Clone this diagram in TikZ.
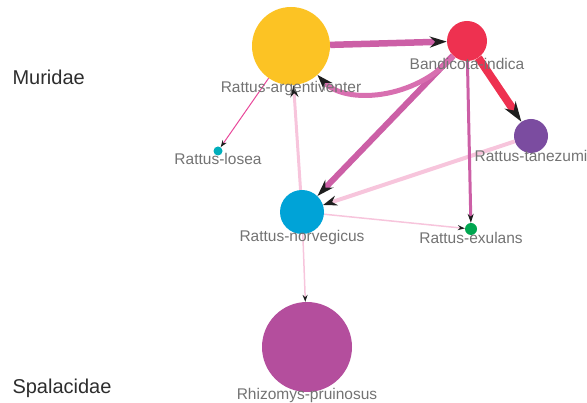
\documentclass[tikz,border=0pt]{standalone}
\usepackage{fontspec}
\setmainfont{Liberation Sans}
\usetikzlibrary{arrows.meta}
\definecolor{cArg}{RGB}{252,195,36}
\definecolor{cBan}{RGB}{238,49,80}
\definecolor{cTan}{RGB}{123,76,160}
\definecolor{cLos}{RGB}{0,174,187}
\definecolor{cNor}{RGB}{0,163,215}
\definecolor{cExu}{RGB}{0,166,80}
\definecolor{cRhi}{RGB}{180,78,157}
\definecolor{eStrong}{RGB}{204,95,166}
\definecolor{eCurve}{RGB}{216,111,176}
\definecolor{eLight}{RGB}{247,197,220}
\definecolor{eLos}{RGB}{232,72,154}
\definecolor{tipblack}{RGB}{30,30,30}
\definecolor{labgray}{RGB}{115,115,115}
\definecolor{famgray}{RGB}{45,45,45}
\begin{document}
\begin{tikzpicture}[x=1pt,y=-1pt,
    sp/.style={circle,inner sep=0pt,minimum size=#1},
    lab/.style={anchor=center,text=labgray,font=\fontsize{15.5}{18}\selectfont},
    fam/.style={anchor=west,text=famgray,font=\fontsize{20}{24}\selectfont},
    arr/.style 2 args={-{Stealth[length=#1,width=#2,color=tipblack]}}]
    \useasboundingbox (0,0) rectangle (587,403);
    % species
    \node [sp=78pt,fill=cArg] (arg) at (291,46) {};
    \node [sp=40pt,fill=cBan] (ban) at (467,41) {};
    \node [sp=34pt,fill=cTan] (tan) at (531,136) {};
    \node [sp=9pt,fill=cLos] (los) at (218,151) {};
    \node [sp=44pt,fill=cNor] (nor) at (302,212) {};
    \node [sp=12pt,fill=cExu] (exu) at (471,229) {};
    \node [sp=90pt,fill=cRhi] (rhi) at (307,347) {};
    % links
    \path (nor) edge [draw=eLight,line width=1.5pt,arr={7pt}{5pt}] (exu);
    \path (nor) edge [draw=eLight,line width=1.5pt,arr={7pt}{5pt}] (rhi);
    \path (nor) edge [draw=eLight,line width=3pt,arr={12pt}{8pt}] (arg);
    \path (tan) edge [draw=eLight,line width=4pt,arr={14pt}{10pt}] (nor);
    \path (arg) edge [draw=eLos,line width=1pt,arr={7pt}{5pt}] (los);
    \path (ban) edge [draw=eStrong,line width=3pt,arr={9pt}{6pt}] (exu);
    \path (ban) edge [draw=eStrong,line width=6pt,arr={17pt}{11pt}] (nor);
    \draw [eCurve,line width=5pt,arr={16pt}{11pt}]
      (ban) .. controls (415,100) and (345,105) .. (arg);
    \path (arg) edge [draw=eStrong,line width=6.5pt,arr={17pt}{11pt}] (ban);
    \path (ban) edge [draw=cBan,line width=8pt,arr={20pt}{13pt}] (tan);
    % names
    \node [lab] (arg-l) at ([yshift=-3pt]arg.south) {Rattus-argentiventer};
    \node [lab] (ban-l) at ([yshift=-3pt]ban.south) {Bandicota-indica};
    \node [lab] (tan-l) at ([yshift=-3pt]tan.south) {Rattus-tanezumi};
    \node [lab] (los-l) at ([yshift=-3pt]los.south) {Rattus-losea};
    \node [lab] (nor-l) at ([yshift=-3pt]nor.south) {Rattus-norvegicus};
    \node [lab] (exu-l) at ([yshift=-3pt]exu.south) {Rattus-exulans};
    \node [lab] (rhi-l) at ([yshift=-3pt]rhi.south) {Rhizomys-pruinosus};
    % families
    \node [fam] (muri) at (9,77) {Muridae};
    \node [fam] (spal) at (9,388) {Spalacidae};
\end{tikzpicture}
\end{document}
